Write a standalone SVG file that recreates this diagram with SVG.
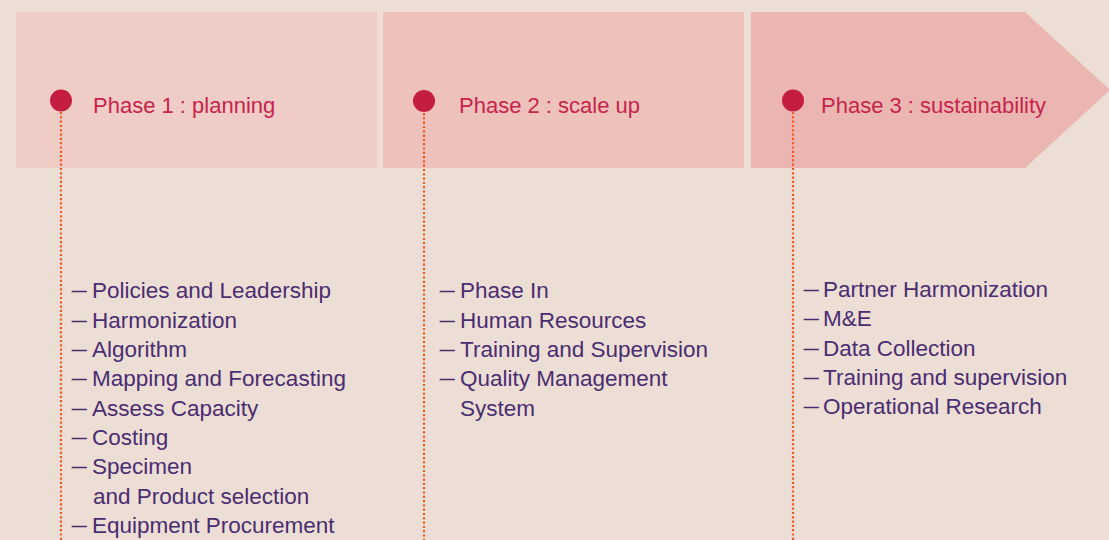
<svg xmlns="http://www.w3.org/2000/svg" width="1109" height="540" viewBox="0 0 1109 540">
<style>
.title{font-family:"Liberation Sans",Arial,sans-serif;font-size:22px;fill:#C8234A}
.item{font-family:"Liberation Sans",Arial,sans-serif;font-size:22.5px;fill:#4B2C72}
.d{font-size:14.5px;stroke:#4B2C72;stroke-width:0.7}
.dot{fill:#C41D40}
.conn{stroke:#EF5A2A;stroke-width:2.2;stroke-dasharray:2.2 2.1;fill:none}
</style>
<rect x="0" y="0" width="1109" height="540" fill="#ECDED4"/>
<g id="phase1">
<rect x="16" y="12" width="361" height="156" fill="#F0CCC7"/>
<text class="title" x="93" y="113">Phase 1 : planning</text>
<text class="item" x="72" y="298"><tspan class="d" dy="-3">—</tspan><tspan x="92" dy="3">Policies and Leadership</tspan></text>
<text class="item" x="72" y="327.5"><tspan class="d" dy="-3">—</tspan><tspan x="92" dy="3">Harmonization</tspan></text>
<text class="item" x="72" y="357"><tspan class="d" dy="-3">—</tspan><tspan x="92" dy="3">Algorithm</tspan></text>
<text class="item" x="72" y="386"><tspan class="d" dy="-3">—</tspan><tspan x="92" dy="3">Mapping and Forecasting</tspan></text>
<text class="item" x="72" y="415.5"><tspan class="d" dy="-3">—</tspan><tspan x="92" dy="3">Assess Capacity</tspan></text>
<text class="item" x="72" y="445"><tspan class="d" dy="-3">—</tspan><tspan x="92" dy="3">Costing</tspan></text>
<text class="item" x="72" y="474"><tspan class="d" dy="-3">—</tspan><tspan x="92" dy="3">Specimen</tspan></text>
<text class="item" x="93" y="503.5">and Product selection</text>
<text class="item" x="72" y="533"><tspan class="d" dy="-3">—</tspan><tspan x="92" dy="3">Equipment Procurement</tspan></text>
</g>
<g id="phase2">
<rect x="383" y="12" width="361" height="156" fill="#EFC1BB"/>
<text class="title" x="459" y="113">Phase 2 : scale up</text>
<text class="item" x="440" y="298"><tspan class="d" dy="-3">—</tspan><tspan x="460" dy="3">Phase In</tspan></text>
<text class="item" x="440" y="327.5"><tspan class="d" dy="-3">—</tspan><tspan x="460" dy="3">Human Resources</tspan></text>
<text class="item" x="440" y="357"><tspan class="d" dy="-3">—</tspan><tspan x="460" dy="3">Training and Supervision</tspan></text>
<text class="item" x="440" y="386"><tspan class="d" dy="-3">—</tspan><tspan x="460" dy="3">Quality Management</tspan></text>
<text class="item" x="460" y="415.5">System</text>
</g>
<g id="phase3">
<polygon points="751,12 1025,12 1110,90 1025,168 751,168" fill="#EBB6B1"/>
<text class="title" x="821" y="113">Phase 3 : sustainability</text>
<text class="item" x="804" y="297"><tspan class="d" dy="-3">—</tspan><tspan x="823" dy="3">Partner Harmonization</tspan></text>
<text class="item" x="804" y="326"><tspan class="d" dy="-3">—</tspan><tspan x="823" dy="3">M&amp;E</tspan></text>
<text class="item" x="804" y="355.5"><tspan class="d" dy="-3">—</tspan><tspan x="823" dy="3">Data Collection</tspan></text>
<text class="item" x="804" y="385"><tspan class="d" dy="-3">—</tspan><tspan x="823" dy="3">Training and supervision</tspan></text>
<text class="item" x="804" y="414"><tspan class="d" dy="-3">—</tspan><tspan x="823" dy="3">Operational Research</tspan></text>
</g>
<g id="connectors">
<line class="conn" x1="61" y1="112" x2="61" y2="540"/>
<line class="conn" x1="424" y1="113" x2="424" y2="540"/>
<line class="conn" x1="793" y1="112" x2="793" y2="540"/>
</g>
<g id="markers">
<circle class="dot" cx="61" cy="100.5" r="11"/>
<circle class="dot" cx="424" cy="101" r="11"/>
<circle class="dot" cx="793" cy="100.5" r="11"/>
</g>
</svg>
